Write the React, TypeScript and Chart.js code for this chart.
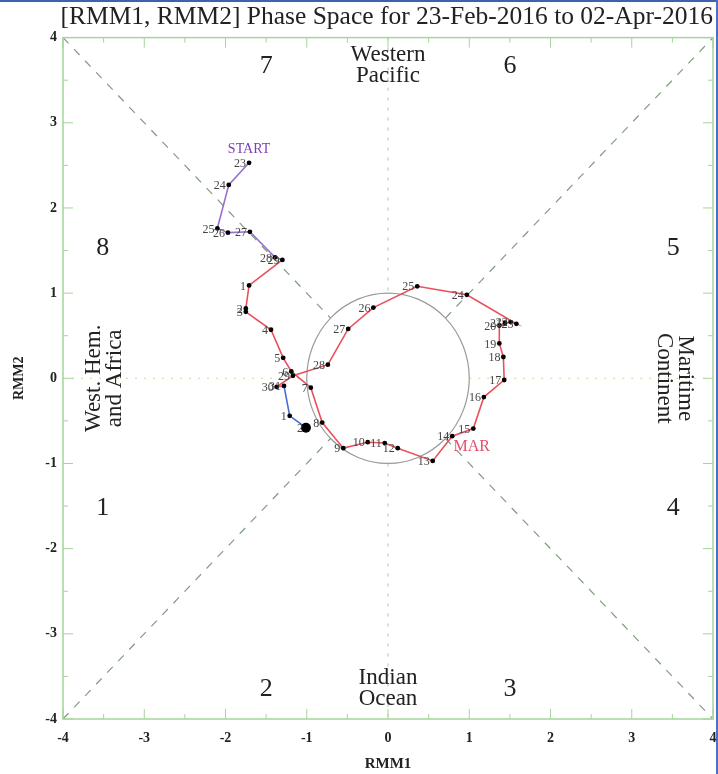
import React, { useEffect, useRef } from "react";
import { Chart, registerables } from "chart.js";

Chart.register(...registerables);

// ---- data (RMM1, RMM2) ----
const febDays = [23, 24, 25, 26, 27, 28, 29];
const febX = [-1.71, -1.96, -2.1, -1.97, -1.7, -1.39, -1.3];
const febY = [2.53, 2.27, 1.76, 1.71, 1.72, 1.42, 1.39];

const marDays = [
  1, 2, 3, 4, 5, 6, 7, 8, 9, 10, 11, 12, 13, 14, 15, 16, 17, 18, 19, 20, 21, 22, 23, 24, 25, 26, 27, 28, 29, 30, 31,
];
const marX = [
  -1.71, -1.75, -1.75, -1.44, -1.29, -1.19, -0.95, -0.81, -0.55, -0.25, -0.04, 0.12, 0.55, 0.79, 1.05, 1.18, 1.43,
  1.42, 1.37, 1.37, 1.44, 1.51, 1.58, 0.97, 0.36, -0.18, -0.49, -0.74, -1.17, -1.37, -1.28,
];
const marY = [
  1.09, 0.82, 0.78, 0.57, 0.24, 0.08, -0.11, -0.52, -0.82, -0.75, -0.76, -0.82, -0.97, -0.68, -0.59, -0.22, -0.02,
  0.25, 0.41, 0.62, 0.65, 0.66, 0.64, 0.98, 1.08, 0.83, 0.58, 0.16, 0.03, -0.1, -0.09,
];

const aprDays = [1, 2];
const aprX = [-1.21, -1.01];
const aprY = [-0.44, -0.58];

const axisTicks = [-4, -3, -2, -1, 0, 1, 2, 3, 4];

const phaseNames = ["1", "2", "3", "4", "5", "6", "7", "8"];
const phaseX = [-3.51, -1.5, 1.5, 3.51, 3.51, 1.5, -1.5, -3.51];
const phaseY = [-1.52, -3.65, -3.65, -1.52, 1.53, 3.66, 3.66, 1.53];

const titleText = "[RMM1, RMM2] Phase Space for 23-Feb-2016 to 02-Apr-2016";

const SERIF = "'Liberation Serif', 'DejaVu Serif', serif";

const pts = (xs: number[], ys: number[]) => xs.map((x, i) => ({ x, y: ys[i] }));

const decorPlugin = {
  id: "mjoDecor",
  beforeDatasetsDraw(chart: any) {
    const { ctx, chartArea: a, scales } = chart;
    const xs = scales.x;
    const ys = scales.y;
    const px = (v: number) => xs.getPixelForValue(v);
    const py = (v: number) => ys.getPixelForValue(v);
    ctx.save();
    const r = Math.SQRT1_2;
    ctx.strokeStyle = "#7f9c7f";
    ctx.lineWidth = 1.2;
    ctx.setLineDash([8, 8]);
    const seg = (x1: number, y1: number, x2: number, y2: number) => {
      ctx.beginPath();
      ctx.moveTo(px(x1), py(y1));
      ctx.lineTo(px(x2), py(y2));
      ctx.stroke();
    };
    seg(-4, -4, -r, -r);
    seg(r, r, 4, 4);
    seg(-4, 4, -r, r);
    seg(r, -r, 4, -4);
    ctx.strokeStyle = "#a9cc98";
    ctx.lineWidth = 1;
    ctx.setLineDash([3, 7]);
    seg(0, 4, 0, 1);
    seg(0, -1, 0, -4);
    ctx.strokeStyle = "#cbd98c";
    ctx.setLineDash([2, 7]);
    seg(-4, 0, -1, 0);
    seg(1, 0, 4, 0);
    ctx.setLineDash([]);
    ctx.strokeStyle = "#9a9a9a";
    ctx.lineWidth = 1.2;
    ctx.beginPath();
    ctx.ellipse(px(0), py(0), px(1) - px(0), py(0) - py(1), 0, 0, Math.PI * 2);
    ctx.stroke();
    ctx.strokeStyle = "#a6d49c";
    ctx.lineWidth = 1.5;
    ctx.strokeRect(a.left, a.top, a.right - a.left, a.bottom - a.top);
    ctx.lineWidth = 1;
    for (let v = -4; v <= 4.001; v += 0.5) {
      const major = Math.abs(v - Math.round(v)) < 0.01;
      const len = major ? 10 : 5;
      const X = px(v);
      const Y = py(v);
      ctx.beginPath();
      ctx.moveTo(X, a.bottom);
      ctx.lineTo(X, a.bottom - len);
      ctx.moveTo(X, a.top);
      ctx.lineTo(X, a.top + len);
      ctx.moveTo(a.left, Y);
      ctx.lineTo(a.left + len, Y);
      ctx.moveTo(a.right, Y);
      ctx.lineTo(a.right - len, Y);
      ctx.stroke();
    }
    ctx.restore();
  },
  afterDatasetsDraw(chart: any) {
    const { ctx, scales } = chart;
    const xs = scales.x;
    const ys = scales.y;
    const px = (v: number) => xs.getPixelForValue(v);
    const py = (v: number) => ys.getPixelForValue(v);
    ctx.save();
    ctx.font = `12px ${SERIF}`;
    ctx.fillStyle = "#444";
    ctx.textAlign = "right";
    ctx.textBaseline = "middle";
    const labelSet = (dsIndex: number, days: number[], skipFirst: boolean) => {
      const meta = chart.getDatasetMeta(dsIndex);
      days.forEach((d, i) => {
        const el = meta.data[i + (skipFirst ? 1 : 0)];
        if (!el) return;
        ctx.fillText(String(d), el.x - 3, el.y + 1);
      });
    };
    labelSet(0, febDays, false);
    labelSet(1, marDays, true);
    labelSet(2, aprDays, true);

    ctx.textAlign = "center";
    ctx.font = `14px ${SERIF}`;
    ctx.fillStyle = "#7b3fb5";
    ctx.fillText("START", px(febX[0]), py(febY[0]) - 13);
    ctx.font = `16px ${SERIF}`;
    ctx.fillStyle = "#e0506e";
    ctx.fillText("MAR", px(1.03), py(-0.8));

    ctx.fillStyle = "#222";
    ctx.font = `26px ${SERIF}`;
    phaseNames.forEach((n, i) => ctx.fillText(n, px(phaseX[i]), py(phaseY[i])));

    ctx.font = `23px ${SERIF}`;
    ctx.fillText("Western", px(0), py(3.8));
    ctx.fillText("Pacific", px(0), py(3.545));
    ctx.fillText("Indian", px(0), py(-3.52));
    ctx.fillText("Ocean", px(0), py(-3.77));

    ctx.save();
    ctx.translate(px(-3.62), py(0));
    ctx.rotate(-Math.PI / 2);
    ctx.fillText("West. Hem.", 0, 0);
    ctx.fillText("and Africa", 0, 21);
    ctx.restore();

    ctx.save();
    ctx.translate(px(3.66), py(0));
    ctx.rotate(Math.PI / 2);
    ctx.fillText("Maritime", 0, 0);
    ctx.fillText("Continent", 0, 21);
    ctx.restore();

    ctx.restore();
  },
};

export default function App() {
  const ref = useRef<HTMLCanvasElement>(null);

  useEffect(() => {
    document.body.style.margin = "0";
    const canvas = ref.current;
    if (!canvas) return;
    const lastFeb = { x: febX[febX.length - 1], y: febY[febY.length - 1] };
    const lastMar = { x: marX[marX.length - 1], y: marY[marY.length - 1] };
    const chart = new Chart(canvas, {
      type: "scatter",
      data: {
        datasets: [
          {
            label: "Feb",
            data: pts(febX, febY),
            showLine: true,
            borderColor: "#9a6fcf",
            borderWidth: 1.6,
            pointRadius: 2.4,
            pointBackgroundColor: "#000",
            pointBorderWidth: 0,
          },
          {
            label: "Mar",
            data: [lastFeb, ...pts(marX, marY)],
            showLine: true,
            borderColor: "#e8505c",
            borderWidth: 1.6,
            pointRadius: [0, ...marDays.map(() => 2.4)],
            pointBackgroundColor: "#000",
            pointBorderWidth: 0,
          },
          {
            label: "Apr",
            data: [lastMar, ...pts(aprX, aprY)],
            showLine: true,
            borderColor: "#4a6ad8",
            borderWidth: 1.6,
            pointRadius: [0, 2.4, 5],
            pointBackgroundColor: "#000",
            pointBorderWidth: 0,
          },
        ],
      },
      options: {
        animation: false,
        responsive: false,
        layout: { padding: { left: 0, right: 5, top: 0, bottom: 0 } },
        plugins: {
          legend: { display: false },
          tooltip: { enabled: false },
          title: {
            display: true,
            text: titleText,
            align: "end",
            color: "#222",
            font: { family: SERIF, size: 25.5, weight: "normal" },
            padding: { top: 2, bottom: 5 },
          },
        },
        scales: {
          x: {
            type: "linear",
            min: -4,
            max: 4,
            afterBuildTicks: (s: any) => {
              s.ticks = axisTicks.map((v) => ({ value: v }));
            },
            afterFit: (s: any) => {
              s.height = 55;
            },
            grid: { display: false, drawTicks: true, tickLength: 11 },
            border: { display: false },
            ticks: {
              color: "#222",
              padding: 0,
              maxRotation: 0,
              font: { family: SERIF, size: 14, weight: "bold" },
            },
            title: {
              display: true,
              text: "RMM1",
              color: "#222",
              font: { family: SERIF, size: 15, weight: "bold" },
              padding: { top: 0, bottom: 1 },
            },
          },
          y: {
            type: "linear",
            min: -4,
            max: 4,
            afterBuildTicks: (s: any) => {
              s.ticks = axisTicks.map((v) => ({ value: v }));
            },
            afterFit: (s: any) => {
              s.width = 63;
            },
            grid: { display: false, drawTicks: false },
            border: { display: false },
            ticks: {
              color: "#222",
              padding: 6,
              font: { family: SERIF, size: 14, weight: "bold" },
            },
            title: {
              display: true,
              text: "RMM2",
              color: "#222",
              font: { family: SERIF, size: 14, weight: "bold" },
              padding: { top: 11, bottom: 0 },
            },
          },
        },
      },
      plugins: [decorPlugin],
    });
    return () => chart.destroy();
  }, []);

  return (
    <div style={{ position: "relative", width: 718, height: 774, background: "#fff" }}>
      <canvas ref={ref} width={718} height={774} style={{ display: "block" }} />
      <div style={{ position: "absolute", left: 0, top: 0, width: 718, height: 2, background: "#3f62b0" }} />
      <div style={{ position: "absolute", right: 0, top: 0, width: 2, height: 774, background: "#4a72c4" }} />
    </div>
  );
}
